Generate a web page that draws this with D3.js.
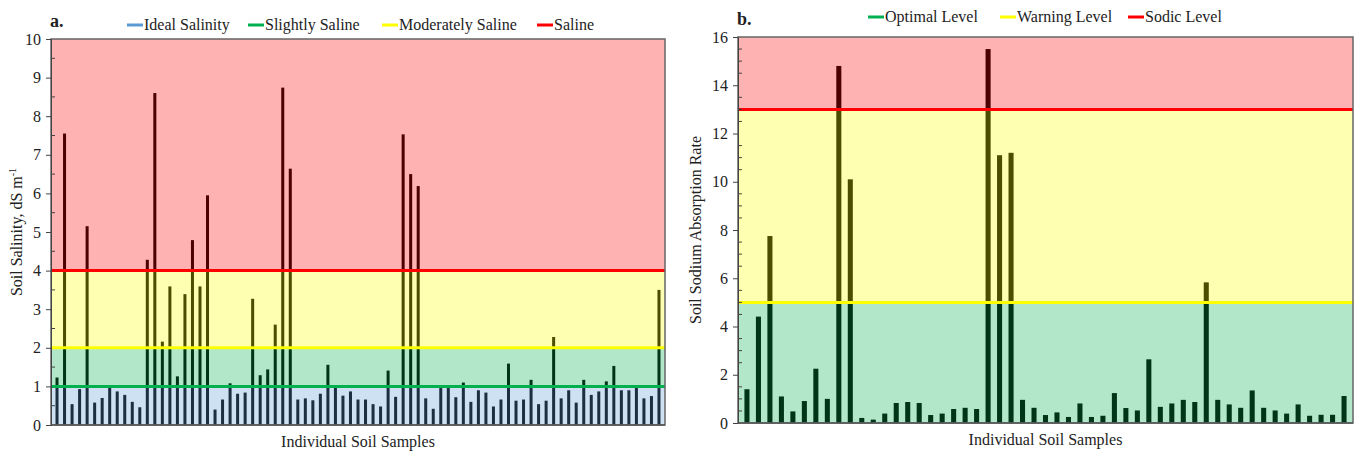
<!doctype html>
<html>
<head>
<meta charset="utf-8">
<title>Soil salinity and SAR</title>
<script src="https://cdnjs.cloudflare.com/ajax/libs/d3/7.8.5/d3.min.js"></script>
<style>
  body { margin: 0; background: #fff; font-family: 'Liberation Serif', 'Times New Roman', serif; }
  svg text { font-family: 'Liberation Serif', 'Times New Roman', serif; fill: #222; }
</style>
</head>
<body>
<div id="chart"></div>
<script>
// panel a: soil salinity (dS m-1), one bar per sample
const salinity = [1.23, 7.55, 0.54, 0.93, 5.15, 0.58, 0.70, 0.99, 0.87, 0.78,
  0.60, 0.46, 4.28, 8.60, 2.16, 3.59, 1.26, 3.39, 4.79, 3.59,
  5.95, 0.40, 0.66, 1.08, 0.81, 0.84, 3.27, 1.29, 1.44, 2.60,
  8.74, 6.64, 0.66, 0.69, 0.64, 0.81, 1.56, 0.97, 0.76, 0.87,
  0.66, 0.66, 0.54, 0.48, 1.41, 0.73, 7.53, 6.50, 6.19, 0.69,
  0.42, 0.97, 0.97, 0.72, 1.10, 0.60, 0.90, 0.84, 0.48, 0.66,
  1.59, 0.63, 0.66, 1.17, 0.54, 0.63, 2.28, 0.69, 0.90, 0.58,
  1.17, 0.78, 0.87, 1.13, 1.53, 0.90, 0.90, 0.97, 0.69, 0.75, 3.50];

// panel b: sodium absorption rate
const sar = [1.40, 4.41, 7.75, 1.10, 0.48, 0.91, 2.25, 1.00, 14.8, 10.1,
  0.21, 0.14, 0.39, 0.83, 0.87, 0.83, 0.33, 0.39, 0.58, 0.63,
  0.58, 15.5, 11.1, 11.2, 0.96, 0.63, 0.33, 0.44, 0.25, 0.81,
  0.25, 0.30, 1.24, 0.62, 0.52, 2.64, 0.67, 0.81, 0.96, 0.87,
  5.83, 0.96, 0.77, 0.63, 1.35, 0.63, 0.52, 0.39, 0.77, 0.30,
  0.34, 0.34, 1.12];

// class bands [from, to] and threshold lines
const salNames = ['Ideal Salinity', 'Slightly Saline', 'Moderately Saline', 'Saline'];
const salColors = ['#5B9BD5', '#00B050', '#FFFF00', '#FF0000'];
const salBands = [[0, 1], [1, 2], [2, 4], [4, 10]];
const salLines = [null, 1, 2, 4];
const salTicks = [0, 1, 2, 3, 4, 5, 6, 7, 8, 9, 10];

const sarNames = ['Optimal Level', 'Warning Level', 'Sodic Level'];
const sarColors = ['#00B050', '#FFFF00', '#FF0000'];
const sarBands = [[0, 5], [5, 13], [13, 16]];
const sarLines = [null, 5, 13];
const sarTicks = [0, 2, 4, 6, 8, 10, 12, 14, 16];

const svg = d3.select('#chart').append('svg')
  .attr('width', 1356)
  .attr('height', 452);

function panel(opt) {
  const g = svg.append('g');
  const x = d3.scaleBand()
    .domain(d3.range(opt.values.length))
    .range([opt.left, opt.right])
    .padding(opt.pad);
  const y = d3.scaleLinear()
    .domain([0, opt.max])
    .range([opt.bottom, opt.top]);

  // black bars first, the coloured bands sit on top of them translucent
  g.selectAll('rect.bar')
    .data(opt.values)
    .join('rect')
    .attr('class', 'bar')
    .attr('x', (d, i) => x(i))
    .attr('width', x.bandwidth())
    .attr('y', d => y(d))
    .attr('height', d => y(0) - y(d))
    .attr('fill', '#000');

  g.selectAll('rect.band')
    .data(opt.bands)
    .join('rect')
    .attr('class', 'band')
    .attr('x', opt.left)
    .attr('width', opt.right - opt.left)
    .attr('y', d => y(d[1]))
    .attr('height', d => y(d[0]) - y(d[1]))
    .attr('fill', (d, i) => opt.colors[i])
    .attr('fill-opacity', 0.3);

  opt.lines.forEach((v, i) => {
    if (v === null) return;
    g.append('line')
      .attr('x1', opt.left).attr('x2', opt.right)
      .attr('y1', y(v)).attr('y2', y(v))
      .attr('stroke', opt.colors[i])
      .attr('stroke-width', 3);
  });

  // frame
  g.append('rect')
    .attr('x', opt.left).attr('y', opt.top)
    .attr('width', opt.right - opt.left)
    .attr('height', opt.bottom - opt.top)
    .attr('fill', 'none')
    .attr('stroke', '#666')
    .attr('stroke-width', 1.5);

  // y axis: major ticks outside, minor inside
  const yAxis = g.append('g')
    .attr('transform', `translate(${opt.left},0)`)
    .call(d3.axisLeft(y).tickValues(opt.ticks).tickSize(5).tickPadding(5).tickFormat(d3.format('d')));
  yAxis.select('.domain').attr('stroke', '#444');
  yAxis.selectAll('.tick line').attr('stroke', '#444');
  yAxis.selectAll('.tick text')
    .style('font-size', '16px')
    .style('font-family', "'Liberation Serif', serif")
    .attr('fill', '#222');

  const minor = d3.range(0, opt.max + 0.001, 0.5).filter(v => !opt.ticks.includes(v));
  g.selectAll('line.minor')
    .data(minor)
    .join('line')
    .attr('class', 'minor')
    .attr('x1', opt.left).attr('x2', opt.left + 4)
    .attr('y1', d => y(d)).attr('y2', d => y(d))
    .attr('stroke', '#444');

  g.append('line')
    .attr('x1', opt.left).attr('x2', opt.right)
    .attr('y1', opt.bottom).attr('y2', opt.bottom)
    .attr('stroke', '#555').attr('stroke-width', 1.5);

  // labels
  g.append('text')
    .attr('x', opt.left - 1).attr('y', opt.top - 12)
    .style('font-size', '18px').style('font-weight', 'bold')
    .text(opt.letter);

  g.append('text')
    .attr('x', (opt.left + opt.right) / 2).attr('y', opt.bottom + 22)
    .attr('text-anchor', 'middle')
    .style('font-size', '16px')
    .text('Individual Soil Samples');

  const yl = g.append('text')
    .attr('transform', `translate(${opt.ylabX},${(opt.top + opt.bottom) / 2}) rotate(-90)`)
    .attr('text-anchor', 'middle')
    .style('font-size', '16px');
  yl.append('tspan').text(opt.ylab);
  if (opt.sup) {
    yl.append('tspan').attr('dy', -6).style('font-size', '10px').text(opt.sup);
  }

  // legend
  const leg = g.append('g');
  opt.names.forEach((n, i) => {
    const lx = opt.legX[i];
    leg.append('line')
      .attr('x1', lx).attr('x2', lx + 16)
      .attr('y1', opt.legY - 5).attr('y2', opt.legY - 5)
      .attr('stroke', opt.colors[i]).attr('stroke-width', 3);
    leg.append('text')
      .attr('x', lx + 17).attr('y', opt.legY)
      .style('font-size', '16px')
      .text(n);
  });
}

panel({
  values: salinity, max: 10, ticks: salTicks,
  left: 51, right: 665, top: 39, bottom: 425, pad: 0.6,
  bands: salBands, lines: salLines, colors: salColors, names: salNames,
  legX: [127, 248, 382, 537], legY: 30,
  letter: 'a.', ylab: 'Soil Salinity, dS m', sup: '-1', ylabX: 22
});

panel({
  values: sar, max: 16, ticks: sarTicks,
  left: 738, right: 1353, top: 37, bottom: 423, pad: 0.56,
  bands: sarBands, lines: sarLines, colors: sarColors, names: sarNames,
  legX: [868, 1000, 1128], legY: 22,
  letter: 'b.', ylab: 'Soil Sodium Absorption Rate', sup: null, ylabX: 701
});
</script>
</body>
</html>
